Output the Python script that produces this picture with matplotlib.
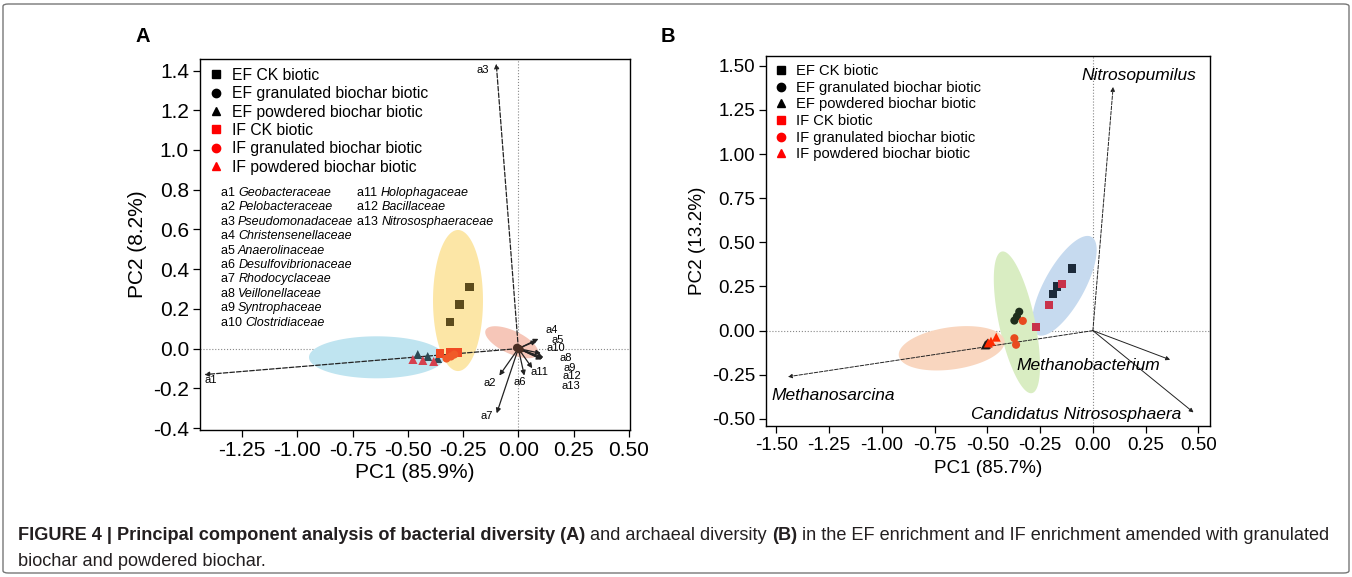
import numpy as np
import matplotlib
matplotlib.use('Agg')
import matplotlib.pyplot as plt
from matplotlib.lines import Line2D
from matplotlib.patches import Polygon, FancyBboxPatch

plt.rcParams['font.family'] = ['Liberation Sans', 'DejaVu Sans']
plt.rcParams['axes.unicode_minus'] = False

# ---------------- Panel A (bacteria) ----------------
groups = ['EF CK biotic', 'EF granulated biochar biotic', 'EF powdered biochar biotic',
          'IF CK biotic', 'IF granulated biochar biotic', 'IF powdered biochar biotic']

a_ef_ck_x = [-0.311, -0.266, -0.221]
a_ef_ck_y = [0.134, 0.222, 0.309]
a_ef_gran_x = [-0.006, 0.0, 0.006]
a_ef_gran_y = [0.004, 0.0, -0.004]
a_ef_pow_x = [-0.455, -0.410, -0.365]
a_ef_pow_y = [-0.030, -0.040, -0.050]
a_if_ck_x = [-0.356, -0.311, -0.275]
a_if_ck_y = [-0.025, -0.020, -0.020]
a_if_gran_x = [-0.325, -0.305, -0.290]
a_if_gran_y = [-0.050, -0.040, -0.030]
a_if_pow_x = [-0.477, -0.432, -0.383]
a_if_pow_y = [-0.055, -0.060, -0.065]

# loadings of the 13 families
a_load_names = ['a1', 'a2', 'a3', 'a4', 'a5', 'a6', 'a7', 'a8', 'a9', 'a10', 'a11', 'a12', 'a13']
a_load_x = [-1.42, -0.086, -0.10, 0.091, 0.082, 0.027, -0.098, 0.114, 0.110, 0.102, 0.063, 0.108, 0.105]
a_load_y = [-0.131, -0.136, 1.435, 0.049, 0.039, -0.136, -0.326, -0.045, -0.050, -0.024, -0.099, -0.052, -0.055]
a_lab_x = [-1.39, -0.131, -0.162, 0.153, 0.176, 0.005, -0.144, 0.215, 0.233, 0.170, 0.095, 0.243, 0.237]
a_lab_y = [-0.156, -0.175, 1.405, 0.091, 0.045, -0.166, -0.342, -0.049, -0.096, 0.002, -0.119, -0.136, -0.186]

a_families = ['Geobacteraceae', 'Pelobacteraceae', 'Pseudomonadaceae', 'Christensenellaceae',
              'Anaerolinaceae', 'Desulfovibrionaceae', 'Rhodocyclaceae', 'Veillonellaceae',
              'Syntrophaceae', 'Clostridiaceae', 'Holophagaceae', 'Bacillaceae', 'Nitrososphaeraceae']

# confidence ellipses: centre x, centre y, semi-axes (x units), angle (deg)
a_ell = [(-0.273, 0.242, 0.319, 0.113, 90, '#fce6a6'),
         (-0.641, -0.044, 0.306, 0.095, 0, '#bfe4f0'),
         (-0.030, 0.032, 0.130, 0.052, -25, '#f6c6b8')]

# ---------------- Panel B (archaea) ----------------
b_ef_ck_x = [-0.100, -0.171, -0.187]
b_ef_ck_y = [0.352, 0.250, 0.207]
b_ef_gran_x = [-0.349, -0.360, -0.372]
b_ef_gran_y = [0.107, 0.080, 0.057]
b_ef_pow_x = [-0.510, -0.500, -0.505]
b_ef_pow_y = [-0.081, -0.070, -0.078]
b_if_ck_x = [-0.147, -0.209, -0.269]
b_if_ck_y = [0.264, 0.143, 0.023]
b_if_gran_x = [-0.332, -0.372, -0.364]
b_if_gran_y = [0.055, -0.043, -0.080]
b_if_pow_x = [-0.495, -0.458, -0.483]
b_if_pow_y = [-0.070, -0.037, -0.060]

b_load_names = ['Nitrosopumilus', 'Methanosarcina', 'Methanobacterium', 'Candidatus Nitrososphaera']
b_load_x = [0.096, -1.445, 0.366, 0.477]
b_load_y = [1.38, -0.261, -0.165, -0.463]
b_lab_x = [0.217, -1.23, -0.02, -0.08]
b_lab_y = [1.443, -0.37, -0.196, -0.476]

b_ell = [(-0.135, 0.254, 0.265, 0.095, 61, '#c6daef'),
         (-0.360, 0.047, 0.343, 0.085, 102, '#d9edc2'),
         (-0.669, -0.100, 0.253, 0.100, 8, '#f9d6bf')]

colors_a = ['#5c4b1c', '#4a2f24', '#2d4a55', '#f04a23', '#f05a28', '#d6404e']
colors_b = ['#1c2a3a', '#1f2e1c', '#1a1a1a', '#c8324a', '#e84a1f', '#ff2a00']
markers = ['s', 'o', '^', 's', 'o', '^']


def draw_ellipse(ax, cx, cy, a, b, angle, color):
    # keep the on-screen shape: y offsets are rescaled by the axes aspect
    p0 = ax.transData.transform((0, 0))
    p1 = ax.transData.transform((1, 1))
    k = (p1[0] - p0[0]) / (p1[1] - p0[1])
    t = np.linspace(0, 2 * np.pi, 200)
    th = np.deg2rad(angle)
    ex = a * np.cos(t) * np.cos(th) - b * np.sin(t) * np.sin(th)
    ey = a * np.cos(t) * np.sin(th) + b * np.sin(t) * np.cos(th)
    ax.add_patch(Polygon(np.column_stack([cx + ex, cy + ey * k]), closed=True,
                         facecolor=color, edgecolor='none', zorder=1))


def style_axes(ax, tick_size):
    for s in ax.spines.values():
        s.set_linewidth(1.0)
    ax.tick_params(direction='out', length=5, width=0.9, labelsize=tick_size, pad=3)
    ax.axhline(0, color='#888888', lw=0.8, ls=':', zorder=0)
    ax.axvline(0, color='#888888', lw=0.8, ls=':', zorder=0)


def legend_handles():
    cols = ['black'] * 3 + ['red'] * 3
    return [Line2D([], [], ls='none', marker=m, color=c, markersize=6) for m, c in zip(markers, cols)]


def rich_line(fig, ax, x, y, parts, renderer, transform, **kw):
    for s, extra in parts:
        t = ax.text(x, y, s, transform=transform, **kw, **extra) if ax is not None else \
            fig.text(x, y, s, transform=transform, **kw, **extra)
        bb = t.get_window_extent(renderer)
        x = transform.inverted().transform((bb.x1, bb.y0))[0]


fig = plt.figure(figsize=(13.52, 5.77), dpi=100)
axA = fig.add_axes([200 / 1352, 1 - 430 / 577, 430 / 1352, 371 / 577])
axB = fig.add_axes([766 / 1352, 1 - 426 / 577, 444 / 1352, 370 / 577])

axA.set_xlim(-1.44, 0.505)
axA.set_ylim(-0.41, 1.458)
axB.set_xlim(-1.549, 0.555)
axB.set_ylim(-0.54, 1.555)

style_axes(axA, 15)
style_axes(axB, 13.6)

axA.set_xticks(np.arange(-1.25, 0.51, 0.25))
axA.set_xticklabels(['%.2f' % v for v in np.arange(-1.25, 0.51, 0.25)])
axA.set_yticks(np.arange(-0.4, 1.41, 0.2))
axA.set_yticklabels(['%.1f' % v for v in np.arange(-0.4, 1.41, 0.2)])
axB.set_xticks(np.arange(-1.5, 0.51, 0.25))
axB.set_xticklabels(['%.2f' % v for v in np.arange(-1.5, 0.51, 0.25)])
axB.set_yticks(np.arange(-0.5, 1.51, 0.25))
axB.set_yticklabels(['%.2f' % v for v in np.arange(-0.5, 1.51, 0.25)])

axA.set_xlabel('PC1 (85.9%)', fontsize=15, labelpad=2)
axA.set_ylabel('PC2 (8.2%)', fontsize=15, labelpad=4)
axB.set_xlabel('PC1 (85.7%)', fontsize=13.6, labelpad=4)
axB.set_ylabel('PC2 (13.2%)', fontsize=13.6, labelpad=4)

for e in a_ell:
    draw_ellipse(axA, *e)
for e in b_ell:
    draw_ellipse(axB, *e)

# panel A loadings
for name, lx, ly, tx, ty in zip(a_load_names, a_load_x, a_load_y, a_lab_x, a_lab_y):
    ls = '--' if name in ('a1', 'a3') else '-'
    axA.annotate('', xy=(lx, ly), xytext=(0, 0),
                 arrowprops=dict(arrowstyle='-|>', lw=0.9, color='#222222', ls=ls,
                                 mutation_scale=7, shrinkA=0, shrinkB=0), zorder=2)
    axA.text(tx, ty, name, fontsize=8, ha='center', va='center', zorder=4)

a_pts = [(a_ef_ck_x, a_ef_ck_y), (a_ef_gran_x, a_ef_gran_y), (a_ef_pow_x, a_ef_pow_y),
         (a_if_ck_x, a_if_ck_y), (a_if_gran_x, a_if_gran_y), (a_if_pow_x, a_if_pow_y)]
for (xs, ys), m, c in zip(a_pts, markers, colors_a):
    axA.scatter(xs, ys, marker=m, s=42 if m == '^' else 34, color=c, edgecolors='none', zorder=3)

# panel B loadings
for name, lx, ly, tx, ty in zip(b_load_names, b_load_x, b_load_y, b_lab_x, b_lab_y):
    ls = '--' if name in ('Nitrosopumilus', 'Methanosarcina') else '-'
    axB.annotate('', xy=(lx, ly), xytext=(0, 0),
                 arrowprops=dict(arrowstyle='-|>', lw=0.7, color='#222222', ls=ls,
                                 mutation_scale=6, shrinkA=0, shrinkB=0), zorder=2)
    axB.text(tx, ty, name, fontsize=12.5, style='italic', ha='center', va='center', zorder=4)

b_pts = [(b_ef_ck_x, b_ef_ck_y), (b_ef_gran_x, b_ef_gran_y), (b_ef_pow_x, b_ef_pow_y),
         (b_if_ck_x, b_if_ck_y), (b_if_gran_x, b_if_gran_y), (b_if_pow_x, b_if_pow_y)]
for (xs, ys), m, c in zip(b_pts, markers, colors_b):
    axB.scatter(xs, ys, marker=m, s=42 if m == '^' else 34, color=c, edgecolors='none', zorder=3)

# legends
axA.legend(legend_handles(), groups, loc='upper left', bbox_to_anchor=(0.0, 1.0), frameon=False,
           fontsize=11.3, handlelength=1.0, handletextpad=0.5, labelspacing=0.22, borderpad=0.35,
           borderaxespad=0.2)
axB.legend(legend_handles(), groups, loc='upper left', bbox_to_anchor=(0.0, 1.0), frameon=False,
           fontsize=10.6, handlelength=1.0, handletextpad=0.5, labelspacing=0.18, borderpad=0.35,
           borderaxespad=0.2)

fig.text(143 / 1352, 1 - 36 / 577, 'A', fontsize=14.5, fontweight='bold', ha='center', va='center')
fig.text(668 / 1352, 1 - 36 / 577, 'B', fontsize=14.5, fontweight='bold', ha='center', va='center')

fig.canvas.draw()
renderer = fig.canvas.get_renderer()

# family key in panel A
for i, fam in enumerate(a_families):
    col, row = (0, i) if i < 10 else (1, i - 10)
    x0 = (0.048 if col == 0 else 0.366)
    y0 = 1 - (134 + row * 14.4) / 371
    rich_line(fig, axA, x0, y0, [('a%d ' % (i + 1), {}), (fam, {'style': 'italic'})],
              renderer, axA.transAxes, fontsize=9, va='center')

# caption
cap_font = ['Liberation Sans Narrow', 'Liberation Sans', 'DejaVu Sans']
line1 = [('FIGURE 4 | Principal component analysis of bacterial diversity (A)', {'fontweight': 'bold'}),
         (' and archaeal diversity ', {}),
         ('(B)', {'fontweight': 'bold'}),
         (' in the EF enrichment and IF enrichment amended with granulated', {})]
rich_line(fig, None, 18 / 1352, 1 - 536 / 577, line1, renderer, fig.transFigure,
          fontsize=13.1, family=cap_font, color='#231f20', va='center')
fig.text(18 / 1352, 1 - 561 / 577, 'biochar and powdered biochar.', fontsize=13.1, family=cap_font,
         color='#231f20', va='center')

fig.patches.append(FancyBboxPatch((3 / 1352, 4 / 577), 1346 / 1352, 569 / 577,
                                  boxstyle='round,pad=0,rounding_size=0.004',
                                  transform=fig.transFigure, facecolor='none',
                                  edgecolor='#777777', lw=1.0))

fig.savefig('out.png', dpi=100)
